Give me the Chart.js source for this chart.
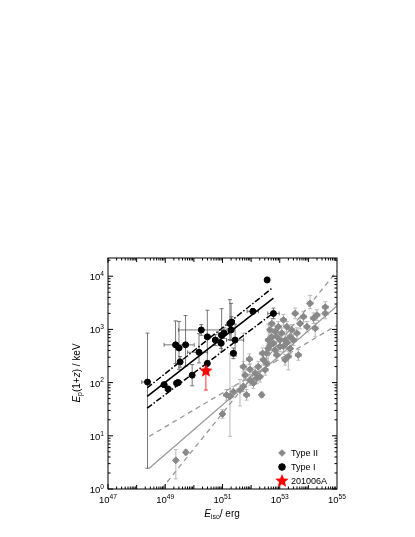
<!DOCTYPE html>
<html><head><meta charset="utf-8">
<script src="https://cdn.jsdelivr.net/npm/chart.js@4.4.1/dist/chart.umd.min.js"></script>
<style>html,body{margin:0;background:#fff}#wrap{width:415px;height:537px}</style>
</head><body><div id="wrap"><canvas id="c"></canvas></div>
<script>
// all values in log10 (dex): [logE, logEp, errDown, errUp, errLeft, errRight]
const typeI = [
  [48.38,2.01,1.62,0.92,0.2,0.05],[48.96,1.96,0.05,0.05,0.1,0.1],[49.10,1.88,0.05,0.05,0.1,0.1],
  [49.36,2.71,0.35,0.45,0.4,0.1],[49.48,2.65,0.4,0.5,0.1,0.1],[49.52,2.39,0.1,0.1,0.05,0.05],
  [49.40,1.99,0.05,0.05,0.1,0.1],[49.45,2.00,0.05,0.05,0.1,0.1],[49.71,2.71,0.4,0.55,0.3,0.3],
  [49.94,2.14,0.2,0.2,0.05,0.05],[50.18,2.57,0.2,0.35,0.4,0.3],[50.26,2.99,0.1,0.1,0.8,0.9],
  [50.47,2.86,0.5,0.5,0.1,0.1],[50.47,2.36,0.1,0.05,0.05,0.05],[50.75,2.80,0.1,0.1,0.1,0.1],
  [50.95,2.74,0.1,0.1,0.1,0.1],[50.97,2.89,0.3,0.5,0.1,0.1],[51.05,2.93,0.1,0.1,0.2,0.2],
  [51.26,3.11,0.3,0.45,0.1,0.1],[51.30,2.99,0.2,0.5,0.1,0.1],[51.38,2.55,0.1,0.1,0.1,0.1],
  [51.32,3.14,0.1,0.1,0.1,0.1],[51.44,2.80,0.3,0.3,0.3,0.3],[52.06,3.34,0.05,0.05,0.2,0.2],
  [52.56,3.93,0.05,0.05,0.05,0.05],[52.78,3.30,0.1,0.1,0.2,0.2]
];
const typeII = [
  [49.37,0.54,0.35,0.2,0.05,0.05],[49.72,0.69,0.05,0.05,0.05,0.05],[51.0,1.41,0.08,0.08,0.05,0.05],
  [51.14,1.77,0.1,0.1,0.1,0.1],[51.26,1.74,0.75,0.8,0.1,0.1],[51.38,1.83,0.1,0.1,0.1,0.1],
  [51.61,1.86,0.3,0.2,0.1,0.1],[51.73,1.93,0.1,1.0,0.1,0.1],[51.73,2.30,0.1,0.1,0.1,0.1],
  [51.79,2.14,0.1,0.1,0.1,0.1],[51.94,2.44,0.1,0.1,0.1,0.1],[51.96,2.05,0.1,0.1,0.1,0.1],
  [52.08,1.99,0.1,0.1,0.1,0.1],[52.14,2.18,0.1,0.1,0.1,0.1],[52.2,2.08,0.1,0.1,0.1,0.1],
  [52.31,2.11,0.1,0.1,0.1,0.1],[52.37,1.77,0.05,0.05,0.05,0.05],[52.43,2.43,0.1,0.1,0.1,0.1],
  [52.49,2.24,0.1,0.1,0.1,0.1],[52.25,2.30,0.1,0.1,0.1,0.1],[52.54,2.36,0.1,0.1,0.1,0.1],
  [52.54,2.55,0.1,0.1,0.1,0.1],[52.6,2.80,0.4,0.3,0.1,0.1],[52.6,2.64,0.1,0.1,0.1,0.1],
  [52.66,2.99,0.1,0.1,0.1,0.1],[52.72,3.11,0.1,0.1,0.1,0.1],[52.72,2.86,0.1,0.1,0.1,0.1],
  [52.78,2.74,0.1,0.1,0.1,0.1],[52.84,2.61,0.1,0.1,0.1,0.1],[52.84,2.96,0.1,0.1,0.1,0.1],
  [52.9,2.86,0.1,0.1,0.1,0.1],[52.9,2.52,0.1,0.1,0.1,0.1],[52.95,3.05,0.1,0.1,0.1,0.1],
  [53.01,2.68,0.1,0.1,0.1,0.1],[53.01,2.80,0.1,0.1,0.1,0.1],[53.07,2.93,0.1,0.1,0.1,0.1],
  [53.13,3.18,0.1,0.1,0.1,0.1],[53.13,2.68,0.1,0.1,0.1,0.1],[53.19,2.80,0.1,0.1,0.1,0.1],
  [53.19,2.43,0.1,0.1,0.1,0.1],[53.25,3.05,0.1,0.1,0.1,0.1],[53.30,2.49,0.25,0.1,0.1,0.1],
  [53.36,2.86,0.1,0.1,0.1,0.1],[53.36,2.64,0.1,0.1,0.1,0.1],[53.42,2.99,0.1,0.1,0.1,0.1],
  [53.48,2.80,0.1,0.1,0.1,0.1],[53.54,3.30,0.1,0.1,0.1,0.1],[53.6,2.93,0.1,0.1,0.1,0.1],
  [53.65,2.52,0.1,0.1,0.1,0.1],[53.71,3.11,0.1,0.1,0.1,0.1],[53.83,3.24,0.1,0.1,0.1,0.1],
  [53.95,3.05,0.1,0.1,0.1,0.1],[54.06,3.49,0.1,0.15,0.1,0.1],[54.18,3.21,0.1,0.1,0.1,0.1],
  [54.24,3.02,0.15,0.1,0.1,0.1],[54.3,3.27,0.1,0.1,0.1,0.1],[54.59,3.42,0.1,0.1,0.1,0.1],
  [54.59,3.30,0.1,0.1,0.1,0.1],[51.84,1.77,0.1,0.1,0.1,0.1],[51.96,2.25,0.1,0.1,0.1,0.1],
  [52.66,2.70,0.1,0.1,0.1,0.1],[53.25,2.75,0.1,0.1,0.1,0.1],[52.4,2.55,0.1,0.1,0.1,0.1]
];
const grb201006A = [[50.42,2.22,0.36,0.16,0.05,0.05]];
// fit lines: [[x0,y0],[x1,y1]] in dex
const fitI = [[48.37,1.74],[52.78,3.59]];
const fitIUp = [[48.37,1.90],[52.72,3.77]];
const fitILo = [[48.37,1.52],[52.78,3.31]];
const fitII = [[48.44,0.39],[55.0,3.44]];
const fitIIUp = [[48.44,0.99],[55.0,3.08]];
const fitIILo = [[48.87,0.0],[55.0,4.1]];
const xTickExp = [47,49,51,53,55];
const yTickExp = [0,1,2,3,4];

const pts = a => a.map(p => ({x: 10 ** p[0], y: 10 ** p[1], e: p.slice(2)}));
const line = (a, color, dash, w) => ({type: 'line', data: pts(a), borderColor: color, borderDash: dash,
  borderWidth: w, pointRadius: 0, fill: false, order: 5});

function starImage(r) {
  const c = document.createElement('canvas');
  c.width = c.height = 2 * r + 2;
  const g = c.getContext('2d');
  g.fillStyle = '#f00';
  g.beginPath();
  for (let i = 0; i < 10; i++) {
    const rr = i % 2 ? r * 0.45 : r, a = -Math.PI / 2 + i * Math.PI / 5;
    g.lineTo(r + 1 + rr * Math.cos(a), r + 1 + rr * Math.sin(a));
  }
  g.closePath(); g.fill();
  return c;
}
const star = starImage(7);

const errorBars = {
  id: 'errorBars',
  beforeDatasetsDraw(chart) {
    const ctx = chart.ctx, xs = chart.scales.x, ys = chart.scales.y;
    chart.data.datasets.forEach(ds => {
      if (!ds.errColor) return;
      ctx.save(); ctx.strokeStyle = ds.errColor; ctx.lineWidth = 0.8;
      ds.data.forEach(p => {
        const lx = Math.log10(p.x), ly = Math.log10(p.y), e = p.e;
        const px = xs.getPixelForValue(p.x), py = ys.getPixelForValue(p.y);
        const y0 = ys.getPixelForValue(10 ** (ly - e[0])), y1 = ys.getPixelForValue(10 ** (ly + e[1]));
        const x0 = xs.getPixelForValue(10 ** (lx - e[2])), x1 = xs.getPixelForValue(10 ** (lx + e[3]));
        ctx.beginPath();
        ctx.moveTo(px, y0); ctx.lineTo(px, y1);
        ctx.moveTo(px - 2, y0); ctx.lineTo(px + 2, y0);
        ctx.moveTo(px - 2, y1); ctx.lineTo(px + 2, y1);
        ctx.moveTo(x0, py); ctx.lineTo(x1, py);
        ctx.moveTo(x0, py - 2); ctx.lineTo(x0, py + 2);
        ctx.moveTo(x1, py - 2); ctx.lineTo(x1, py + 2);
        ctx.stroke();
      });
      ctx.restore();
    });
  }
};

function sup(ctx, base, exp, x, y, size) {
  ctx.font = size + 'px "Liberation Sans"';
  const wb = ctx.measureText(base).width;
  ctx.font = (size * 0.7) + 'px "Liberation Sans"';
  const we = ctx.measureText(exp).width;
  const sx = x - (wb + we) / 2;
  ctx.font = size + 'px "Liberation Sans"';
  ctx.fillText(base, sx, y);
  ctx.font = (size * 0.7) + 'px "Liberation Sans"';
  ctx.fillText(exp, sx + wb, y - size * 0.45);
}

function runs(ctx, parts, x, y) {
  // parts: [text, size, italic, dy]
  let w = 0;
  parts.forEach(p => { ctx.font = (p[2] ? 'italic ' : '') + p[1] + 'px "Liberation Sans"'; w += ctx.measureText(p[0]).width; });
  let cx = x - w / 2;
  parts.forEach(p => {
    ctx.font = (p[2] ? 'italic ' : '') + p[1] + 'px "Liberation Sans"';
    ctx.fillText(p[0], cx, y + p[3]);
    cx += ctx.measureText(p[0]).width;
  });
}

const frame = {
  id: 'frame',
  afterDraw(chart) {
    const ctx = chart.ctx, a = chart.chartArea, xs = chart.scales.x, ys = chart.scales.y;
    ctx.save();
    ctx.strokeStyle = '#000'; ctx.lineWidth = 1;
    ctx.strokeRect(a.left, a.top, a.right - a.left, a.bottom - a.top);
    ctx.beginPath();
    for (let d = 47; d < 55; d++) for (let m = 1; m < 10; m++) {
      const px = xs.getPixelForValue(m * 10 ** d), len = m === 1 ? (d % 2 ? 5 : 4) : 2.5;
      ctx.moveTo(px, a.bottom); ctx.lineTo(px, a.bottom - len);
      ctx.moveTo(px, a.top); ctx.lineTo(px, a.top + len);
    }
    for (let d = 0; d < 5; d++) for (let m = 1; m < 10; m++) {
      const v = m * 10 ** d; if (v > ys.max) continue;
      const py = ys.getPixelForValue(v), len = m === 1 ? 5 : 2.5;
      ctx.moveTo(a.left, py); ctx.lineTo(a.left + len, py);
      ctx.moveTo(a.right, py); ctx.lineTo(a.right - len, py);
    }
    ctx.stroke();
    ctx.fillStyle = '#000'; ctx.textBaseline = 'alphabetic';
    xTickExp.forEach(e => sup(ctx, '10', String(e), xs.getPixelForValue(10 ** e), a.bottom + 14, 9.5));
    yTickExp.forEach(e => {
      const py = ys.getPixelForValue(10 ** e);
      ctx.font = '9.5px "Liberation Sans"'; const wb = ctx.measureText('10').width;
      ctx.font = '6.6px "Liberation Sans"'; const we = ctx.measureText(String(e)).width;
      const x = a.left - 4 - (wb + we) / 2;
      sup(ctx, '10', String(e), x, py + 4, 9.5);
    });
    // axis titles
    runs(ctx, [['E', 10, true, 0], ['iso', 7, false, 2], ['/ erg', 10, false, 0]], 222, 517);
    ctx.translate(80, 373); ctx.rotate(-Math.PI / 2);
    runs(ctx, [['E', 10, true, 0], ['p', 7, false, 2], ['(1+', 10, false, 0], ['z', 10, true, 0], [') / keV', 10, false, 0]], 0, 0);
    ctx.restore();
    // legend
    ctx.save();
    const items = [['Type II', '#888', 'rectRot', 453], ['Type I', '#000', 'circle', 467], ['201006A', '#f00', star, 481]];
    items.forEach(it => {
      ctx.fillStyle = it[1]; ctx.strokeStyle = it[1];
      if (it[2] === star) ctx.drawImage(star, 282 - star.width / 2, it[3] - star.height / 2);
      else Chart.helpers.drawPoint(ctx, {pointStyle: it[2], radius: 3.3, rotation: 0, borderWidth: 1}, 282, it[3]);
      ctx.fillStyle = '#000'; ctx.font = '9px "Liberation Sans"';
      ctx.fillText(it[0], 291, it[3] + 3);
    });
    ctx.restore();
  }
};

new Chart(document.getElementById('c'), {
  type: 'scatter',
  data: {datasets: [
    line(fitIIUp, '#999', [5, 4], 1.3), line(fitIILo, '#999', [5, 4], 1.3), line(fitII, '#999', [], 1.3),
    {data: pts(typeII), pointStyle: 'rectRot', pointRadius: 3.4, backgroundColor: '#888', borderColor: '#888',
      errColor: '#aaa', order: 4},
    line(fitIUp, '#000', [6, 2, 1.5, 2], 1.5), line(fitILo, '#000', [6, 2, 1.5, 2], 1.5), line(fitI, '#000', [], 1.6),
    {data: pts(typeI), pointStyle: 'circle', pointRadius: 3, backgroundColor: '#000', borderColor: '#000',
      errColor: '#555', order: 2},
    {data: pts(grb201006A), pointStyle: star, pointRadius: 6, backgroundColor: '#f00', borderColor: '#f00',
      errColor: '#f00', order: 1}
  ]},
  options: {
    responsive: true, maintainAspectRatio: false, animation: false,
    layout: {padding: {top: 258, right: 78, left: 0, bottom: 0}},
    plugins: {legend: {display: false}, tooltip: {enabled: false}},
    scales: {
      x: {type: 'logarithmic', min: 1e47, max: 1e55, grid: {display: false}, border: {display: false},
        ticks: {display: false}, afterFit: s => { s.height = 48; }},
      y: {type: 'logarithmic', min: 1, max: 2.2e4, grid: {display: false}, border: {display: false},
        ticks: {display: false}, afterFit: s => { s.width = 108; }}
    }
  },
  plugins: [errorBars, frame]
});
</script></body></html>
